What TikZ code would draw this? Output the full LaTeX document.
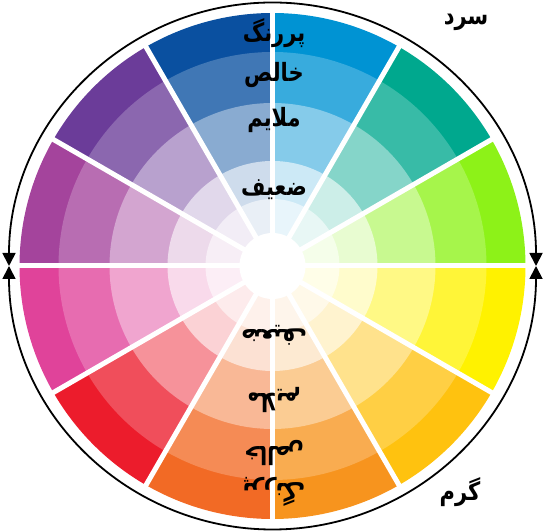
\documentclass[tikz,border=0pt]{standalone}
\usepackage{graphicx}
\usepackage{fontspec}
\newfontfamily\arabicfont[Script=Arabic]{DejaVu Sans}
\TeXXeTstate=1
\usetikzlibrary{arrows.meta}
\definecolor{c0}{RGB}{141,242,24}
\definecolor{c1}{RGB}{0,168,142}
\definecolor{c2}{RGB}{0,147,211}
\definecolor{c3}{RGB}{10,80,160}
\definecolor{c4}{RGB}{107,60,153}
\definecolor{c5}{RGB}{164,68,156}
\definecolor{c6}{RGB}{224,67,154}
\definecolor{c7}{RGB}{236,28,44}
\definecolor{c8}{RGB}{242,106,37}
\definecolor{c9}{RGB}{247,148,30}
\definecolor{c10}{RGB}{255,194,15}
\definecolor{c11}{RGB}{255,242,0}
\newcommand{\ptxt}[1]{\scalebox{1}[1.2]{\beginR #1\endR}}
\tikzset{
  lab/.style={text=black, inner sep=0pt, font=\arabicfont\bfseries\fontsize{21}{24}\selectfont},
  gap/.style={white, line width=5pt},
  rim/.style={black, line width=1.8pt, {Triangle[length=13pt,width=13pt]}-{Triangle[length=13pt,width=13pt]}}
}
\begin{document}
\begin{tikzpicture}[x=1pt,y=1pt]
\useasboundingbox (0,0) rectangle (546,532);
\coordinate (C) at (272.5,266);
\foreach \i/\col in {0/c0,1/c1,2/c2,3/c3,4/c4,5/c5,6/c6,7/c7,8/c8,9/c9,10/c10,11/c11} {
  \foreach \r/\p in {253/100,214/78,163/48,105/20,67/9} {
    \fill[\col!\p!white] (C) -- ++(30*\i:\r) arc[start angle=30*\i, end angle=30*\i+30, radius=\r] -- cycle;
  }
}
\fill[white] (C) circle[radius=33];
\foreach \a in {0,30,...,330} \draw[gap] (C) -- ++(\a:256);
\draw[rim] ([shift={(0:263.5)}]C) arc[start angle=0, end angle=180, radius=263.5];
\draw[rim] ([shift={(180:263.5)}]C) arc[start angle=180, end angle=360, radius=263.5];
\node[lab] (t1) at (274,499) {\ptxt{پررنگ}};
\node[lab] (t2) at (274,457) {\ptxt{خالص}};
\node[lab] (t3) at (274,412) {\ptxt{ملایم}};
\node[lab] (t4) at (274,342) {\ptxt{ضعیف}};
\node[lab, rotate=180] (b4) at (274,197) {\ptxt{ضعیف}};
\node[lab, rotate=180] (b3) at (274,132) {\ptxt{ملایم}};
\node[lab, rotate=180] (b2) at (274,79) {\ptxt{خالص}};
\node[lab, rotate=180] (b1) at (274,40) {\ptxt{پررنگ}};
\node[lab] (cold) at (466,510) {\ptxt{سرد}};
\node[lab] (warm) at (460,40) {\ptxt{گرم}};
\end{tikzpicture}
\end{document}
